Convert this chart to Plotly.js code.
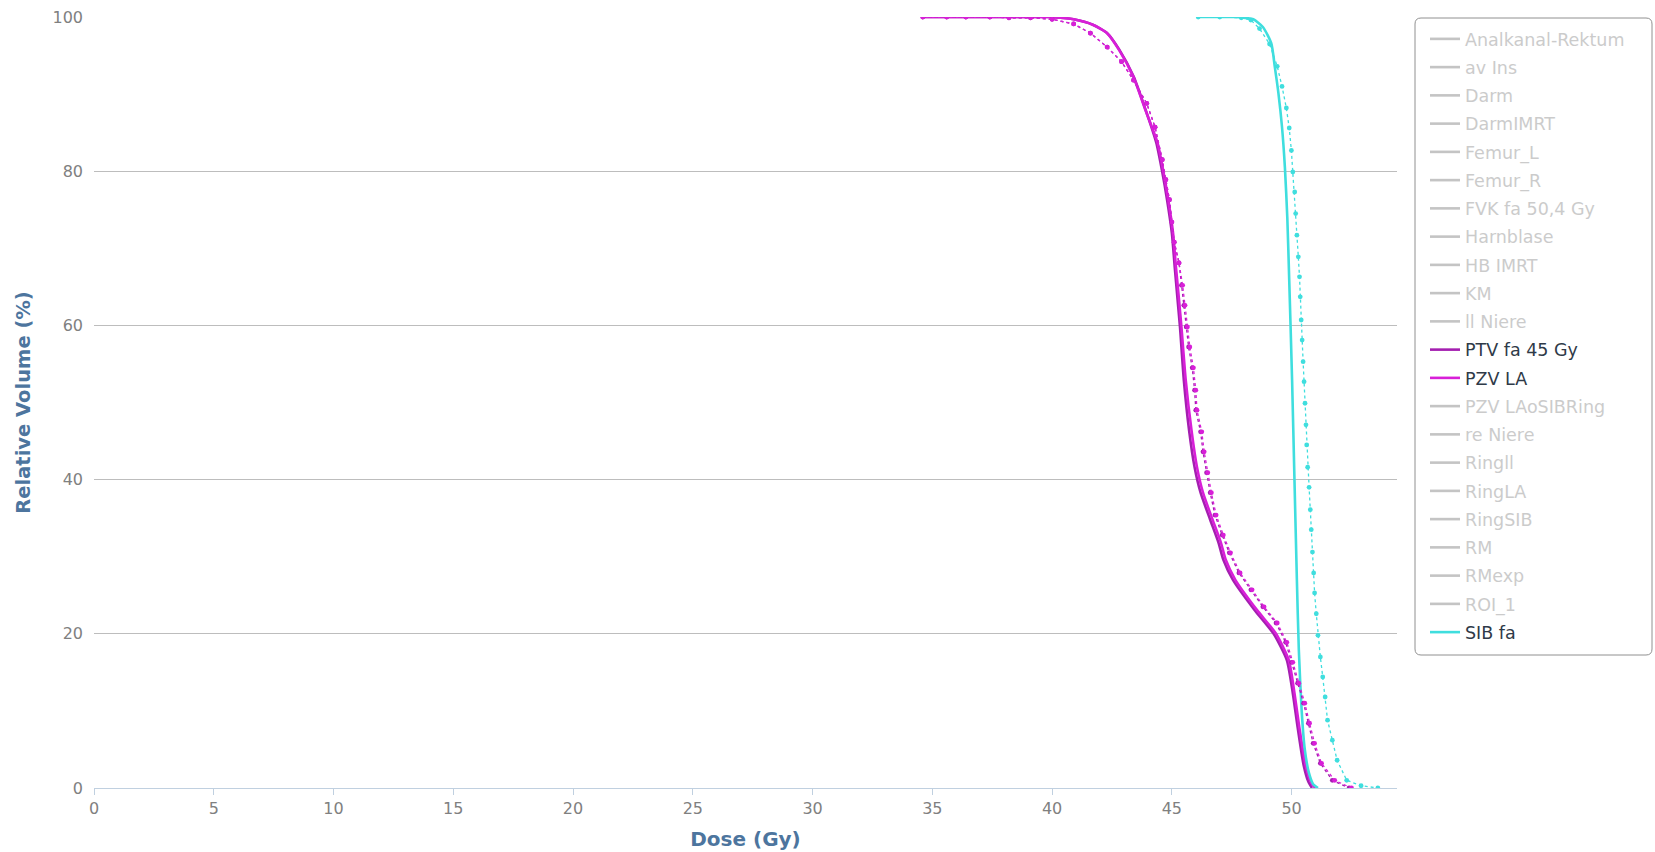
<!DOCTYPE html>
<html><head><meta charset="utf-8">
<script src="https://cdn.plot.ly/plotly-3.0.1.min.js"></script>
<style>html,body{margin:0;padding:0;background:#fff}#chart{width:1655px;height:852px}</style>
</head><body><div id="chart"></div>
<script>
// Legend structures (alphabetical, as in the legend)
const structureNames = ["Analkanal-Rektum","av Ins","Darm","DarmIMRT","Femur_L","Femur_R","FVK fa 50,4 Gy","Harnblase","HB IMRT","KM","ll Niere","PTV fa 45 Gy","PZV LA","PZV LAoSIBRing","re Niere","Ringll","RingLA","RingSIB","RM","RMexp","ROI_1","SIB fa"];
const shownStructures = ["PTV fa 45 Gy","PZV LA","SIB fa"];
const structureColors = {"PTV fa 45 Gy":"#a41fb0","PZV LA":"#d81fd8","SIB fa":"#3fdede"};

// Plan A (solid lines): dose (Gy) and relative volume (%)
const ptvDose  = [34.6,36.0,38.0,39.9,40.9,41.7,42.3,42.8,43.4,43.9,44.35,44.6,44.8,45.0,45.12,45.24,45.34,45.5,45.72,45.95,46.2,46.6,46.95,47.15,47.55,48.45,49.25,49.8,50.05,50.25,50.5,50.7,50.85];
const ptvVol   = [100,100,100,100,99.7,99.0,97.9,95.8,92.3,88.0,83.7,79.9,76.3,72.0,67.6,63.3,59.8,52.9,46.4,41.6,38.3,34.8,31.8,29.6,27.0,23.1,20.0,16.6,12.3,7.9,3.0,0.8,0];
const pzvDose  = [34.6,36.0,38.0,39.9,40.9,41.7,42.3,42.8,43.4,43.9,44.4,44.65,44.85,45.05,45.17,45.3,45.4,45.58,45.82,46.05,46.3,46.7,47.05,47.25,47.65,48.55,49.35,49.88,50.12,50.32,50.58,50.8,50.98];
const pzvVol   = [100,100,100,100,99.7,99.0,97.9,95.7,92.2,87.9,83.7,79.9,76.3,72.0,67.6,63.3,59.8,52.9,46.4,41.6,38.3,34.8,31.8,29.6,27.0,23.1,20.0,16.6,12.3,7.9,3.0,0.8,0];
const sibDose  = [46.1,46.9,47.6,48.0,48.4,48.8,49.15,49.3,49.45,49.6,49.72,49.82,49.9,50.02,50.12,50.22,50.3,50.42,50.55,50.72,50.9,51.1];
const sibVol   = [100,100,100,99.9,99.7,98.7,96.6,93.5,90.1,85.7,80.5,74.0,65.9,52.9,39.9,27.0,18.0,10.0,5.0,2.0,0.5,0];

// Plan B (dotted lines with markers)
const ptvDoseB = [34.6,35.6,36.4,37.4,38.2,39.1,40.0,40.9,41.6,42.3,42.9,43.4,43.95,44.3,44.6,44.75,44.9,45.0,45.1,45.3,45.4,45.5,45.6,45.7,45.85,45.95,46.0,46.2,46.3,46.45,46.6,46.8,47.1,47.4,47.8,48.3,48.8,49.35,49.75,50.0,50.25,50.5,50.7,50.9,51.2,51.7,52.4];
const ptvVolB  = [100,100,100,100,99.9,99.9,99.7,99.1,97.9,96.1,94.2,91.8,88.8,85.7,81.5,78.9,76.3,73.4,70.8,68.1,65.2,62.6,59.8,57.2,54.5,51.6,49.0,46.2,43.6,40.9,38.3,35.4,32.8,30.5,27.9,25.7,23.5,21.4,18.9,16.3,13.6,11.0,8.4,5.8,3.2,1.0,0];
const pzvDoseB = [34.6,35.6,36.4,37.4,38.2,39.1,40.0,40.9,41.6,42.3,42.9,43.4,43.95,44.3,44.6,44.75,44.9,45.0,45.1,45.3,45.45,45.55,45.65,45.75,45.9,46.0,46.05,46.25,46.35,46.5,46.65,46.85,47.15,47.45,47.85,48.35,48.85,49.4,49.8,50.05,50.3,50.55,50.75,50.96,51.25,51.8,52.5];
const pzvVolB  = [100,100,100,100,99.9,99.9,99.7,99.1,97.9,96.1,94.2,91.8,88.8,85.7,81.5,78.9,76.3,73.4,70.8,68.1,65.2,62.6,59.8,57.2,54.5,51.6,49.0,46.2,43.6,40.9,38.3,35.4,32.8,30.5,27.9,25.7,23.5,21.4,18.9,16.3,13.6,11.0,8.4,5.8,3.2,1.0,0];
const sibDoseB = [46.1,47.0,47.9,48.3,48.66,49.08,49.4,49.6,49.78,49.9,49.99,50.05,50.13,50.17,50.22,50.28,50.33,50.36,50.4,50.44,50.48,50.52,50.56,50.6,50.63,50.67,50.73,50.78,50.82,50.87,50.92,50.96,51.03,51.1,51.2,51.3,51.4,51.5,51.7,51.9,52.3,52.9,53.6];
const sibVolB  = [100,100,99.9,99.6,98.5,96.5,93.6,91.0,88.2,85.6,82.7,79.9,77.3,74.5,71.7,68.9,66.3,63.7,60.7,58.1,55.3,52.7,49.9,47.1,44.5,41.6,39.0,36.1,33.5,30.6,27.9,25.3,22.6,19.8,17.0,14.4,11.8,8.8,6.2,3.6,1.0,0.3,0];

// Axis ticks
const xTickVals = [0,5,10,15,20,25,30,35,40,45,50];
const yTickVals = [0,20,40,60,80,100];

const solidData = {"PTV fa 45 Gy":[ptvDose,ptvVol],"PZV LA":[pzvDose,pzvVol],"SIB fa":[sibDose,sibVol]};
const dottedData = {"PTV fa 45 Gy":[ptvDoseB,ptvVolB],"PZV LA":[pzvDoseB,pzvVolB],"SIB fa":[sibDoseB,sibVolB]};

const traces = [];
structureNames.forEach((name,i) => {
  const shown = shownStructures.includes(name);
  if (shown) {
    const [x,y] = solidData[name];
    traces.push({type:'scatter',mode:'lines',x:x,y:y,name:'<span style="color:#2f3a48">'+name+'</span>',
      legendgroup:'g'+i,line:{color:structureColors[name],width:2.6,shape:'spline',smoothing:0.6},hoverinfo:'x+y'});
  } else {
    // hidden structure: listed in the legend only (no curve drawn)
    traces.push({type:'scatter',mode:'lines',x:[null],y:[null],name:'<span style="color:#999">'+name+'</span>',
      legendgroup:'g'+i,visible:'legendonly',line:{color:'#8a8a8a',width:2.6}});
  }
});
structureNames.forEach((name,i) => {
  if (shownStructures.includes(name)) {
    const [x,y] = dottedData[name];
    traces.push({type:'scatter',mode:'lines+markers',x:x,y:y,name:name,showlegend:false,
      legendgroup:'g'+i,line:{color:structureColors[name],width:1.3,dash:'dot'},
      marker:{color:structureColors[name],size:4.8,line:{width:0}}});
  }
});

// layout geometry
const W=1655,H=852,mL=94,mR=258,mT=17,mB=64;
const pw=W-mL-mR, ph=H-mT-mB;
const px=(X)=>(X-mL)/pw, py=(Y)=>(H-mB-Y)/ph;
function roundRect(x0,y0,x1,y1,r){
  const a=px(x0),b=px(x1),c=py(y0),d=py(y1),rx=r/pw,ry=r/ph;
  return `M${a+rx},${c} L${b-rx},${c} Q${b},${c} ${b},${c-ry} L${b},${d+ry} Q${b},${d} ${b-rx},${d} L${a+rx},${d} Q${a},${d} ${a},${d+ry} L${a},${c-ry} Q${a},${c} ${a+rx},${c} Z`;
}

const layout = {
  width:W,height:H,
  margin:{l:mL,r:mR,t:mT,b:mB},
  paper_bgcolor:'#fff',plot_bgcolor:'#fff',
  font:{family:'DejaVu Sans, Verdana, sans-serif',color:'#777'},
  showlegend:true,
  xaxis:{range:[0,54.4],tickvals:xTickVals,ticktext:xTickVals.map(String),showgrid:false,zeroline:false,
    showline:true,linecolor:'#c0d0e0',linewidth:1,ticks:'outside',ticklen:6,tickcolor:'#c0d0e0',
    tickfont:{size:16,color:'#808080'},
    title:{text:'Dose (Gy)',font:{size:20,color:'#4d759e',family:'DejaVu Sans, sans-serif',weight:'bold'},standoff:14}},
  yaxis:{range:[0,100],tickvals:yTickVals,ticktext:yTickVals.map(String),showgrid:true,gridcolor:'#bdbdbd',gridwidth:1,
    zeroline:false,showline:false,ticks:'',tickfont:{size:16,color:'#808080'},ticklabelstandoff:10,
    title:{text:'Relative Volume (%)',font:{size:19.5,color:'#4d759e',family:'DejaVu Sans, sans-serif',weight:'bold'},standoff:16}},
  legend:{x:px(1425),xanchor:'left',y:py(21),yanchor:'top',bgcolor:'rgba(0,0,0,0)',borderwidth:0,
    traceorder:'grouped',tracegroupgap:2.5,font:{size:17.5,color:'#2f3a48'}},
  shapes:[{type:'path',xref:'paper',yref:'paper',path:roundRect(1415,18,1652,655,6),
    line:{color:'#909090',width:1},fillcolor:'rgba(255,255,255,0)',layer:'below'}]
};

Plotly.newPlot('chart',traces,layout,{displayModeBar:false,staticPlot:true});
</script>
</body></html>
